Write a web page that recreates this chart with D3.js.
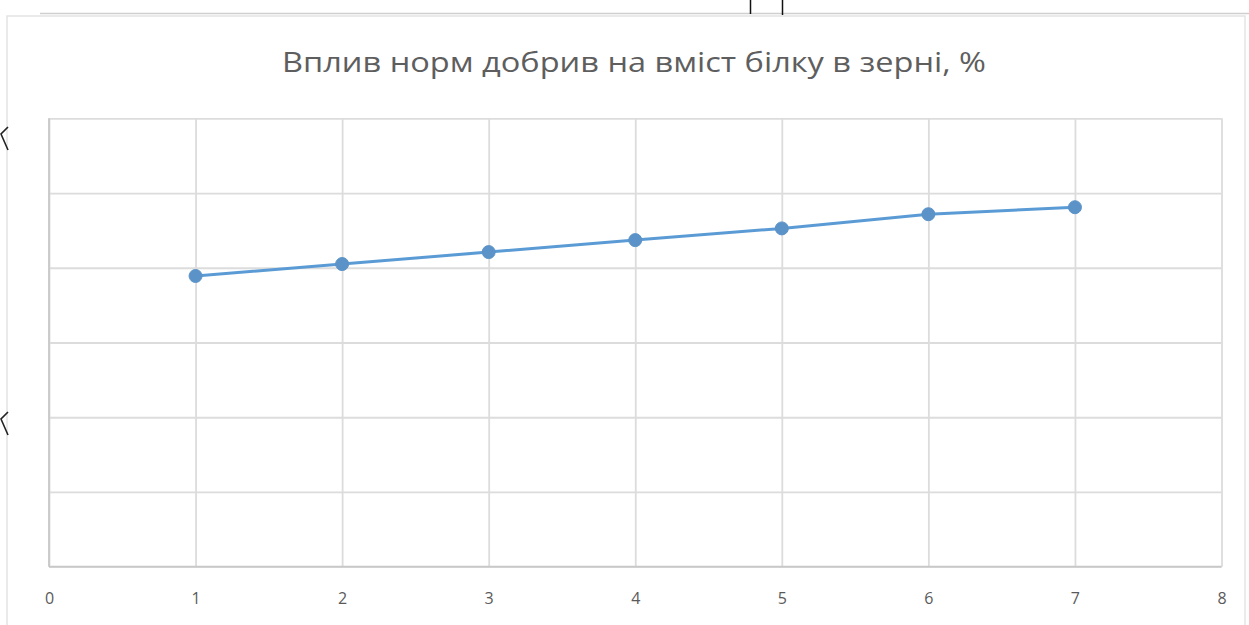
<!DOCTYPE html>
<html lang="uk">
<head>
<meta charset="utf-8">
<script src="https://cdn.jsdelivr.net/npm/d3@7"></script>
<style>
  html, body { margin: 0; padding: 0; background: #ffffff; }
  svg { display: block; }
</style>
</head>
<body>
<svg id="chart" width="1249" height="625"></svg>
<script>
// Chart data: fertilizer rate variant (x) and grain protein content, %
const titleText = "Вплив норм добрив на вміст білку в зерні, %";
const variants = [1, 2, 3, 4, 5, 6, 7];
const protein = [11.67, 12.15, 12.63, 13.11, 13.58, 14.15, 14.43];
const xTicks = [0, 1, 2, 3, 4, 5, 6, 7, 8];
const yTicks = [0, 3, 6, 9, 12, 15, 18];

const svg = d3.select("#chart");
const W = 1249, H = 625;
const plot = { left: 49, right: 1221.5, top: 118.3, bottom: 566.7 };

// chart frame
svg.append("rect").attr("x", 7).attr("y", 16).attr("width", 1238).attr("height", 620)
  .attr("fill", "#ffffff").attr("stroke", "#e4e4e4").attr("stroke-width", 1.5);

// page edge strokes around the chart frame
const deco = svg.append("g").attr("fill", "none");
deco.append("line").attr("x1", 40).attr("x2", W).attr("y1", 13.5).attr("y2", 13.5)
  .attr("stroke", "#cfcfcf").attr("stroke-width", 1.5);
deco.append("line").attr("x1", 750.5).attr("x2", 750.5).attr("y1", 0).attr("y2", 14)
  .attr("stroke", "#111").attr("stroke-width", 1.5);
deco.append("line").attr("x1", 782.5).attr("x2", 782.5).attr("y1", 0).attr("y2", 15)
  .attr("stroke", "#111").attr("stroke-width", 1.5);
deco.append("path").attr("d", "M8,127 L1,134 L8,150")
  .attr("stroke", "#222").attr("stroke-width", 1.6);
deco.append("path").attr("d", "M8,412 L1,419 L8,435")
  .attr("stroke", "#222").attr("stroke-width", 1.6);

const x = d3.scaleLinear().domain([0, 8]).range([plot.left, plot.right]);
const y = d3.scaleLinear().domain([0, 18]).range([plot.bottom, plot.top]);

// horizontal gridlines
svg.append("g")
  .attr("transform", `translate(${plot.left},0)`)
  .call(d3.axisLeft(y).tickValues(yTicks).tickSize(-(plot.right - plot.left)).tickFormat(""))
  .call(g => g.select(".domain").remove())
  .call(g => g.selectAll(".tick line").attr("stroke", "#dcdcdc").attr("stroke-width", 1.8));

// vertical gridlines
svg.append("g")
  .attr("transform", `translate(0,${plot.bottom})`)
  .call(d3.axisBottom(x).tickValues(xTicks).tickSize(-(plot.bottom - plot.top)).tickFormat(""))
  .call(g => g.select(".domain").remove())
  .call(g => g.selectAll(".tick line").attr("stroke", "#dcdcdc").attr("stroke-width", 1.8));

// x axis labels
svg.append("g")
  .attr("transform", `translate(0,${plot.bottom})`)
  .call(d3.axisBottom(x).tickValues(xTicks).tickSize(0).tickPadding(26).tickFormat(d3.format("d")))
  .call(g => g.select(".domain").remove())
  .call(g => g.selectAll(".tick text")
    .attr("fill", "#5a5a5a")
    .attr("font-family", "'Open Sans', 'DejaVu Sans', sans-serif")
    .attr("font-size", 16));

// plot area outline, left and bottom slightly darker
svg.append("line").attr("x1", plot.left).attr("x2", plot.left).attr("y1", plot.top).attr("y2", plot.bottom)
  .attr("stroke", "#c8c8c8").attr("stroke-width", 1.8);
svg.append("line").attr("x1", plot.left).attr("x2", plot.right).attr("y1", plot.bottom).attr("y2", plot.bottom)
  .attr("stroke", "#c8c8c8").attr("stroke-width", 1.8);

// title
svg.append("text")
  .attr("x", 634).attr("y", 72)
  .attr("text-anchor", "middle")
  .attr("fill", "#5e5e5e")
  .attr("font-family", "'Open Sans', 'Noto Sans', sans-serif")
  .attr("font-size", 27)
  .attr("textLength", 704)
  .attr("lengthAdjust", "spacingAndGlyphs")
  .text(titleText);

// series line and markers
const pts = variants.map((v, i) => ({ v, p: protein[i] }));
const line = d3.line().x(d => x(d.v)).y(d => y(d.p));
svg.append("path").datum(pts)
  .attr("d", line)
  .attr("fill", "none")
  .attr("stroke", "#5b9bd5")
  .attr("stroke-width", 3)
  .attr("stroke-linejoin", "round");

svg.append("g").selectAll("circle").data(pts).join("circle")
  .attr("cx", d => x(d.v))
  .attr("cy", d => y(d.p))
  .attr("r", 6.5)
  .attr("fill", "#5b93c8")
  .attr("stroke", "#5b93c8")
  .attr("stroke-width", 1);
</script>
</body>
</html>
